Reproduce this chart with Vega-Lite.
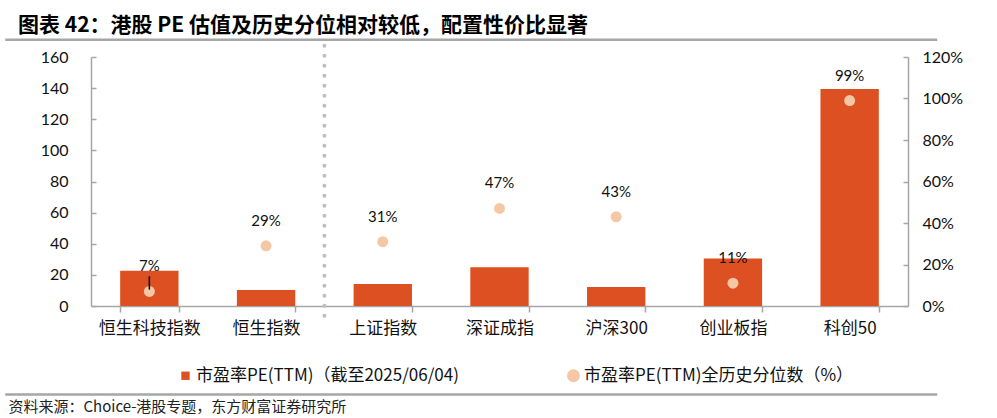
{
  "$schema": "https://vega.github.io/schema/vega-lite/v6.json",
  "width": 817,
  "height": 249,
  "autosize": {"type": "none"},
  "padding": {"left": 91, "top": 57, "right": 89, "bottom": 112},
  "background": "white",
  "config": {
    "font": "Noto Sans CJK SC",
    "view": {"stroke": null},
    "axis": {
      "domainColor": "#A6A6A6",
      "tickColor": "#A6A6A6",
      "domainWidth": 1.5,
      "tickWidth": 1.5,
      "labelColor": "#111111",
      "labelFontSize": 16,
      "grid": false,
      "labelOverlap": false
    }
  },
  "title": {
    "text": "图表 42：港股 PE 估值及历史分位相对较低，配置性价比显著",
    "anchor": "start",
    "frame": "group",
    "fontSize": 21,
    "fontWeight": "bold",
    "color": "#000000",
    "dx": -73,
    "offset": 2
  },
  "data": {
    "values": [
      {"name": "恒生科技指数", "pe": 22.7, "pct": 7},
      {"name": "恒生指数", "pe": 10.3, "pct": 29},
      {"name": "上证指数", "pe": 14.1, "pct": 31},
      {"name": "深证成指", "pe": 24.9, "pct": 47},
      {"name": "沪深300", "pe": 12.2, "pct": 43},
      {"name": "创业板指", "pe": 30.6, "pct": 11},
      {"name": "科创50", "pe": 139.4, "pct": 99}
    ]
  },
  "layer": [
    {
      "layer": [
        {
          "mark": {"type": "bar"},
          "encoding": {
            "x": {
              "field": "name",
              "type": "nominal",
              "sort": null,
              "scale": {"paddingInner": 0.5, "paddingOuter": 0.25},
              "axis": {
                "title": "资料来源：Choice-港股专题，东方财富证券研究所",
                "labelAngle": 0,
                "tickBand": "extent",
                "tickSize": 6,
                "labelPadding": 8,
                "labelFontSize": 17,
                "titleX": -83,
                "titleY": 100,
                "titleAlign": "left",
                "titleAnchor": "start",
                "titleBaseline": "middle",
                "titleFontSize": 15,
                "titleFontWeight": "normal",
                "titleColor": "#222222"
              }
            },
            "y": {
              "field": "pe",
              "type": "quantitative",
              "scale": {"domain": [0, 160]},
              "axis": {
                "title": null,
                "values": [0, 20, 40, 60, 80, 100, 120, 140, 160],
                "labelOverlap": false,
                "tickSize": -5,
                "labelPadding": 28,
                "labelFont": "Lato"
              }
            },
            "color": {
              "datum": "市盈率PE(TTM)（截至2025/06/04)",
              "scale": {
                "domain": ["市盈率PE(TTM)（截至2025/06/04)", "市盈率PE(TTM)全历史分位数（%）"],
                "range": ["#DD5022", "#F6C7A5"]
              },
              "legend": {
                "title": null,
                "orient": "none",
                "legendX": 86,
                "legendY": 310,
                "direction": "horizontal",
                "labelFontSize": 17,
                "labelColor": "#111111",
                "labelLimit": 0,
                "columnPadding": 106,
                "labelOffset": 2,
                "symbolStrokeWidth": 0,
                "encode": {
                  "symbols": {
                    "update": {
                      "shape": {"signal": "datum.index === 0 ? 'square' : 'circle'"},
                      "size": {"signal": "datum.index === 0 ? 70 : 170"}
                    }
                  }
                }
              }
            }
          }
        },
        {
          "data": {"values": [{}]},
          "mark": {"type": "rule", "color": "#BFBFBF", "strokeWidth": 4, "strokeDash": [0, 10], "strokeCap": "round"},
          "encoding": {
            "x": {"datum": "恒生指数", "type": "nominal", "bandPosition": 1.5},
            "y": {
              "datum": 167.3,
              "type": "quantitative",
              "axis": {
                "title": null,
                "values": [0, 20, 40, 60, 80, 100, 120, 140, 160],
                "labelOverlap": false,
                "tickSize": -5,
                "labelPadding": 28,
                "labelFont": "Lato"
              }
            },
            "y2": {"datum": -10.5}
          }
        },
        {
          "data": {"values": [{"line": "top"}, {"line": "bottom"}]},
          "mark": {"type": "rule", "color": "#A6A6A6", "strokeWidth": 2.5},
          "encoding": {
            "x": {"datum": "恒生科技指数", "type": "nominal", "bandPosition": -1.97},
            "x2": {"datum": "科创50", "bandPosition": 2.0},
            "y": {
              "field": "ypos",
              "type": "quantitative",
              "axis": {
                "title": null,
                "values": [0, 20, 40, 60, 80, 100, 120, 140, 160],
                "labelOverlap": false,
                "tickSize": -5,
                "labelPadding": 28,
                "labelFont": "Lato"
              }
            },
            "y2": {"field": "ypos"}
          },
          "transform": [{"calculate": "datum.line === 'top' ? 171.1 : -56.9", "as": "ypos"}]
        }
      ]
    },
    {
      "transform": [{"calculate": "datum.pct + '%'", "as": "label"}],
      "layer": [
        {
          "mark": {"type": "point", "filled": true, "opacity": 1, "size": 120},
          "encoding": {
            "x": {"field": "name", "type": "nominal", "sort": null},
            "y": {
              "field": "pct",
              "type": "quantitative",
              "scale": {"domain": [0, 120]},
              "axis": {
                "orient": "right",
                "title": null,
                "values": [0, 20, 40, 60, 80, 100, 120],
                "labelExpr": "datum.value + '%'",
                "tickSize": -5,
                "labelPadding": 19,
                "labelFont": "Lato"
              }
            },
            "color": {"datum": "市盈率PE(TTM)全历史分位数（%）"}
          }
        },
        {
          "mark": {"type": "text", "dy": -25, "fontSize": 15, "font": "Lato", "color": "#111111", "baseline": "middle"},
          "encoding": {
            "x": {"field": "name", "type": "nominal", "sort": null},
            "y": {"field": "pct", "type": "quantitative"},
            "text": {"field": "label", "type": "nominal"}
          }
        },
        {
          "data": {"values": [{"name": "恒生科技指数", "lo": 7.9, "hi": 14.3}]},
          "mark": {"type": "rule", "color": "#000000", "strokeWidth": 1.5},
          "encoding": {
            "x": {"field": "name", "type": "nominal", "sort": null},
            "y": {"field": "lo", "type": "quantitative"},
            "y2": {"field": "hi"}
          }
        }
      ]
    }
  ],
  "resolve": {"scale": {"y": "independent"}}
}
